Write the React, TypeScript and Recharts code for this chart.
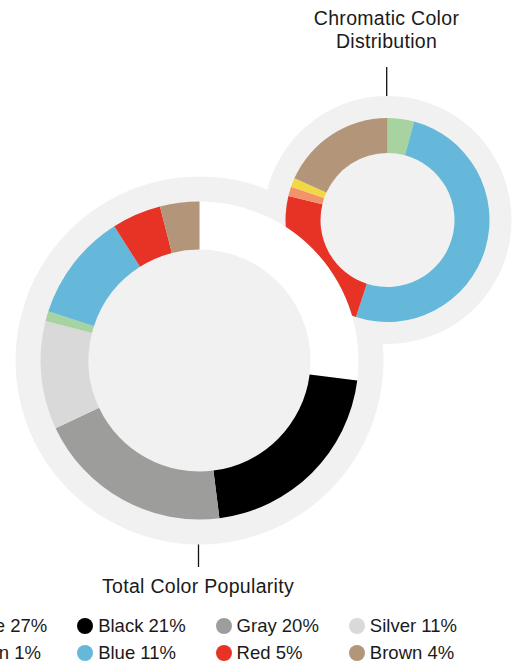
import React from 'react';
import { PieChart, Pie, Cell, Legend, Customized } from 'recharts';

// Total color popularity (outer, large donut) in %
const totalNames = ['White', 'Black', 'Gray', 'Silver', 'Green', 'Blue', 'Red', 'Brown'];
const totalValues = [27, 21, 20, 11, 1, 11, 5, 4];
const totalColors = ['#ffffff', '#000000', '#9d9d9c', '#d9d9d9', '#a6d3a0', '#65b8d9', '#e63325', '#b3967a'];

// Chromatic colors only (small donut), share of chromatic total in %
const chromaNames = ['Green', 'Blue', 'Red', 'Orange', 'Yellow', 'Brown'];
const chromaValues = [4.2, 50.8, 23.8, 1.5, 1.4, 18.3];
const chromaColors = ['#a6d3a0', '#65b8d9', '#e63325', '#f2936a', '#f1d845', '#b3967a'];

const totalData = totalNames.map((name, i) => ({ name, value: totalValues[i] }));
const chromaData = chromaNames.map((name, i) => ({ name, value: chromaValues[i] }));

const FONT = '"Liberation Sans", Arial, Helvetica, sans-serif';
const BG = '#f1f1f1';

const big = { cx: 199.5, cy: 360.5, inner: 111, outer: 159, back: 184 };
const small = { cx: 387.5, cy: 220, inner: 67, outer: 102, back: 124 };

function Annotations() {
  const textStyle = { fontFamily: FONT, fontSize: 19.5, letterSpacing: 0.3, fill: '#1a1a1a' };
  return (
    <g>
      <line x1={386.7} y1={67} x2={386.7} y2={135} stroke="#111" strokeWidth={1.3} />
      <text x={386.5} y={25} textAnchor="middle" style={textStyle}>Chromatic Color</text>
      <text x={386.5} y={48.3} textAnchor="middle" style={textStyle}>Distribution</text>
      <line x1={198.5} y1={498} x2={198.5} y2={567} stroke="#111" strokeWidth={1.3} />
      <text x={198} y={593.3} textAnchor="middle" style={textStyle}>Total Color Popularity</text>
    </g>
  );
}

function ColorLegend() {
  return (
    <div style={{
      display: 'grid',
      gridTemplateColumns: 'repeat(4, auto)',
      gridAutoRows: '26.6px',
      justifyContent: 'start',
      columnGap: 30,
      fontFamily: FONT,
      fontSize: 18.5,
      color: '#1a1a1a',
      lineHeight: '26.6px'
    }}>
      {totalNames.map((name, i) => (
        <div key={name} style={{ display: 'flex', alignItems: 'center', gap: 5, whiteSpace: 'nowrap', height: 26.6 }}>
          <span style={{
            width: 16,
            height: 16,
            flex: '0 0 16px',
            borderRadius: '50%',
            background: totalColors[i] === '#ffffff' ? '#f1f1f1' : totalColors[i],
            display: 'inline-block'
          }} />
          <span>{name} {totalValues[i]}%</span>
        </div>
      ))}
    </div>
  );
}

export default function App() {
  // fixed so the chart sits at the window's top-left corner, clear of the body margin
  return (
    <div style={{ position: 'fixed', top: 0, left: 0, width: 514, height: 663, overflow: 'hidden', background: '#fff' }}>
      <PieChart width={514} height={663} margin={{ top: 0, right: 0, bottom: 0, left: 0 }}>
        <Pie
          data={[{ name: 'bg', value: 1 }]}
          dataKey="value"
          cx={big.cx}
          cy={big.cy}
          innerRadius={0}
          outerRadius={big.back}
          fill={BG}
          stroke="none"
          isAnimationActive={false}
        />
        <Pie
          data={[{ name: 'bg', value: 1 }]}
          dataKey="value"
          cx={small.cx}
          cy={small.cy}
          innerRadius={0}
          outerRadius={small.back}
          fill={BG}
          stroke="none"
          isAnimationActive={false}
        />
        <Pie
          data={chromaData}
          dataKey="value"
          nameKey="name"
          cx={small.cx}
          cy={small.cy}
          innerRadius={small.inner}
          outerRadius={small.outer}
          startAngle={90}
          endAngle={-270}
          stroke="none"
          isAnimationActive={false}
        >
          {chromaData.map((entry, index) => (
            <Cell key={`chroma-${index}`} fill={chromaColors[index]} />
          ))}
        </Pie>
        <Pie
          data={totalData}
          dataKey="value"
          nameKey="name"
          cx={big.cx}
          cy={big.cy}
          innerRadius={big.inner}
          outerRadius={big.outer}
          startAngle={90}
          endAngle={-270}
          stroke="none"
          isAnimationActive={false}
        >
          {totalData.map((entry, index) => (
            <Cell key={`total-${index}`} fill={totalColors[index]} />
          ))}
        </Pie>
        <Customized component={<Annotations />} />
        <Legend
          content={() => <ColorLegend />}
          wrapperStyle={{ position: 'absolute', left: -63.3, top: 613.2, width: 620, height: 54, bottom: 'auto' }}
        />
      </PieChart>
    </div>
  );
}
